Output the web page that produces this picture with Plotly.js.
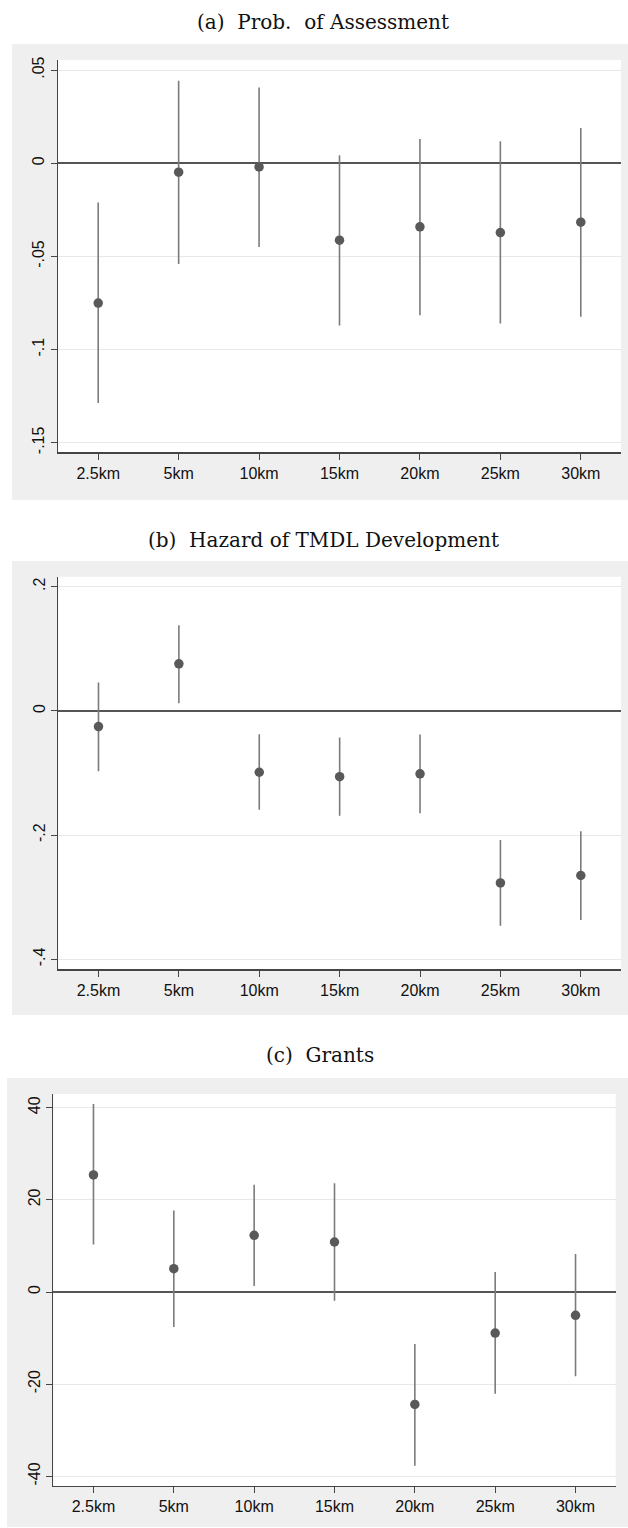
<!DOCTYPE html>
<html>
<head>
<meta charset="utf-8">
<script src="https://cdn.plot.ly/plotly-3.0.1.min.js"></script>
<style>
  html, body { margin: 0; padding: 0; background: #ffffff; }
  #chart { width: 628px; height: 1528px; }
</style>
</head>
<body>
<div id="chart"></div>
<script>
// Distance bands shared by all three panels
const distLabels = ['2.5km', '5km', '10km', '15km', '20km', '25km', '30km'];

// (a) Probability of assessment: point estimates and 95% CI bounds
const assessEst = [-0.075, -0.0048, -0.002, -0.0413, -0.0341, -0.0372, -0.0316];
const assessLo  = [-0.1286, -0.054, -0.045, -0.087, -0.0815, -0.086, -0.0824];
const assessHi  = [-0.0211, 0.0443, 0.0407, 0.0043, 0.013, 0.0118, 0.0189];

// (b) Hazard of TMDL development
const tmdlEst = [-0.0252, 0.0757, -0.0988, -0.106, -0.1014, -0.277, -0.265];
const tmdlLo  = [-0.0971, 0.0124, -0.159, -0.169, -0.1647, -0.346, -0.3366];
const tmdlHi  = [0.0456, 0.138, -0.0375, -0.043, -0.0382, -0.2077, -0.1938];

// (c) Grants
const grantEst = [25.4, 5.05, 12.3, 10.85, -24.4, -8.9, -5.07];
const grantLo  = [10.3, -7.6, 1.3, -1.9, -37.7, -22.1, -18.3];
const grantHi  = [40.8, 17.7, 23.3, 23.6, -11.3, 4.34, 8.24];

// Y-axis ticks for each panel
const assessTicks = [0.05, 0, -0.05, -0.1, -0.15];
const assessTickText = ['.05', '0', '-.05', '-.1', '-.15'];
const tmdlTicks = [0.2, 0, -0.2, -0.4];
const tmdlTickText = ['.2', '0', '-.2', '-.4'];
const grantTicks = [40, 20, 0, -20, -40];
const grantTickText = ['40', '20', '0', '-20', '-40'];

// Panel titles
const panelTitles = ['(a)  Prob.  of Assessment', '(b)  Hazard of TMDL Development', '(c)  Grants'];

const W = 628, H = 1528;
const px = v => v / W;          // horizontal pixel -> paper fraction
const py = v => 1 - v / H;      // vertical pixel (from top) -> paper fraction

const markerColor = '#595959';
const ciColor = '#7b7b7b';

function ciTrace(est, lo, hi, xa, ya) {
  return {
    type: 'scatter',
    mode: 'markers',
    x: distLabels,
    y: est,
    xaxis: xa,
    yaxis: ya,
    marker: { color: markerColor, size: 9.5 },
    error_y: {
      type: 'data',
      symmetric: false,
      array: hi.map((h, i) => h - est[i]),
      arrayminus: lo.map((l, i) => est[i] - l),
      width: 0,
      thickness: 1.6,
      color: ciColor
    },
    hoverinfo: 'skip',
    showlegend: false
  };
}

const data = [
  ciTrace(assessEst, assessLo, assessHi, 'x', 'y'),
  ciTrace(tmdlEst, tmdlLo, tmdlHi, 'x2', 'y2'),
  ciTrace(grantEst, grantLo, grantHi, 'x3', 'y3')
];

const tickFont = { family: '"Liberation Sans", Arial, sans-serif', size: 16, color: '#111111' };

function xAxis(domain, anchor) {
  return {
    domain: domain,
    anchor: anchor,
    type: 'category',
    range: [-0.5, 6.5],
    showgrid: false,
    zeroline: false,
    showline: true,
    linecolor: '#454545',
    linewidth: 1.2,
    ticks: 'outside',
    ticklen: 6,
    tickwidth: 1,
    tickcolor: '#454545',
    tickfont: tickFont,
    fixedrange: true
  };
}

function yAxis(domain, anchor, range, vals, text) {
  return {
    domain: domain,
    anchor: anchor,
    range: range,
    tickmode: 'array',
    tickvals: vals,
    ticktext: text,
    tickangle: -90,
    showgrid: true,
    gridcolor: '#e8e8e8',
    gridwidth: 1,
    zeroline: true,
    zerolinecolor: '#555555',
    zerolinewidth: 1.6,
    showline: true,
    linecolor: '#454545',
    linewidth: 1.2,
    ticks: 'outside',
    ticklen: 6,
    tickwidth: 1,
    tickcolor: '#454545',
    tickfont: tickFont,
    fixedrange: true
  };
}

// Panel frames: grey graph region, white plot region
const frames = [
  { g: [12, 44, 628, 500], p: [58, 60, 621, 452.3] },
  { g: [12, 561, 628, 1015], p: [58.3, 576.7, 621, 969.3] },
  { g: [7, 1078, 628, 1527], p: [53.3, 1094, 615.7, 1486] }
];

const shapes = [];
frames.forEach(f => {
  shapes.push({
    type: 'rect', xref: 'paper', yref: 'paper', layer: 'below',
    x0: px(f.g[0]), x1: px(f.g[2]), y0: py(f.g[3]), y1: py(f.g[1]),
    fillcolor: '#efefef', line: { width: 0 }
  });
  shapes.push({
    type: 'rect', xref: 'paper', yref: 'paper', layer: 'below',
    x0: px(f.p[0]), x1: px(f.p[2]), y0: py(f.p[3]), y1: py(f.p[1]),
    fillcolor: '#ffffff', line: { width: 0 }
  });
});

const titleFont = { family: '"DejaVu Serif", "Liberation Serif", serif', size: 20, color: '#111111' };
const titleCenters = [[323, 22], [323, 540], [320, 1055]];
const annotations = panelTitles.map((t, i) => ({
  text: t,
  xref: 'paper', yref: 'paper',
  x: px(titleCenters[i][0]), y: py(titleCenters[i][1]),
  xanchor: 'center', yanchor: 'middle',
  showarrow: false,
  font: titleFont
}));

const layout = {
  width: W,
  height: H,
  margin: { l: 0, r: 0, t: 0, b: 0, pad: 0 },
  paper_bgcolor: '#ffffff',
  plot_bgcolor: '#ffffff',
  showlegend: false,
  xaxis: xAxis([px(58), px(621)], 'y'),
  yaxis: yAxis([py(452.3), py(60)], 'x', [-0.1551, 0.0554], assessTicks, assessTickText),
  xaxis2: xAxis([px(58.3), px(621)], 'y2'),
  yaxis2: yAxis([py(969.3), py(576.7)], 'x2', [-0.416, 0.216], tmdlTicks, tmdlTickText),
  xaxis3: xAxis([px(53.3), px(615.7)], 'y3'),
  yaxis3: yAxis([py(1486), py(1094)], 'x3', [-42.1, 42.97], grantTicks, grantTickText),
  shapes: shapes,
  annotations: annotations
};

Plotly.newPlot('chart', data, layout, { staticPlot: true, displayModeBar: false });
</script>
</body>
</html>
